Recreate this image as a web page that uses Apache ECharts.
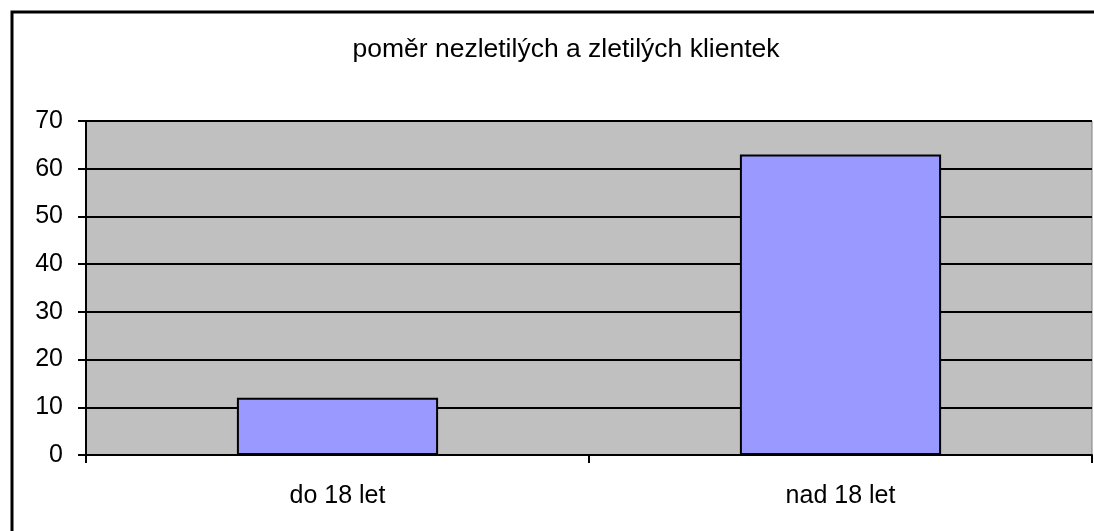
<!DOCTYPE html>
<html>
<head>
<meta charset="utf-8">
<script src="https://cdn.jsdelivr.net/npm/echarts@6/dist/echarts.min.js"></script>
<style>
  html, body { margin: 0; padding: 0; background: #fff; }
  #chart { width: 1094px; height: 531px; }
</style>
</head>
<body>
<div id="chart"></div>
<script>
// data
let categories = ['do 18 let', 'nad 18 let']
let clients = [12, 63]
let chartTitle = 'poměr nezletilých a zletilých klientek'

let font = 'Liberation Sans, Arial, sans-serif'

var myChart = echarts.init(document.getElementById('chart'))

var option = {
    backgroundColor: '#fff',
    animation: false,
    title: {
        text: chartTitle,
        left: 561,
        top: 31,
        textAlign: 'center',
        textStyle: { fontFamily: font, fontSize: 26.5, fontWeight: 'normal', color: '#000' }
    },
    // outer frame, its right and bottom edges run off the picture
    graphic: [{
        type: 'rect',
        shape: { x: 12, y: 12, width: 1200, height: 700 },
        style: { fill: 'none', stroke: '#000', lineWidth: 3 },
        z: 100
    }],
    grid: {
        left: 86, right: 2, top: 121, bottom: 76,
        show: true,
        backgroundColor: '#c0c0c0',
        borderColor: '#808080',
        borderWidth: 1
    },
    xAxis: {
        type: 'category',
        data: categories,
        axisLine: { lineStyle: { color: '#000', width: 2 } },
        axisTick: { show: true, length: 8, lineStyle: { color: '#000', width: 2 } },
        axisLabel: { margin: 29, fontFamily: font, fontSize: 25, color: '#000' }
    },
    yAxis: {
        type: 'value',
        min: 0,
        max: 70,
        interval: 10,
        axisLine: { show: true, lineStyle: { color: '#000', width: 2 } },
        axisTick: { show: true, length: 8, lineStyle: { color: '#000', width: 2 } },
        axisLabel: { margin: 23, fontFamily: font, fontSize: 25, color: '#000' },
        splitLine: { show: true, lineStyle: { color: '#000', width: 2 } }
    },
    series: [{
        type: 'bar',
        data: clients,
        barWidth: '40%',
        itemStyle: { color: '#9999ff', borderColor: '#000', borderWidth: 2 }
    }]
}

myChart.setOption(option)
</script>
</body>
</html>
